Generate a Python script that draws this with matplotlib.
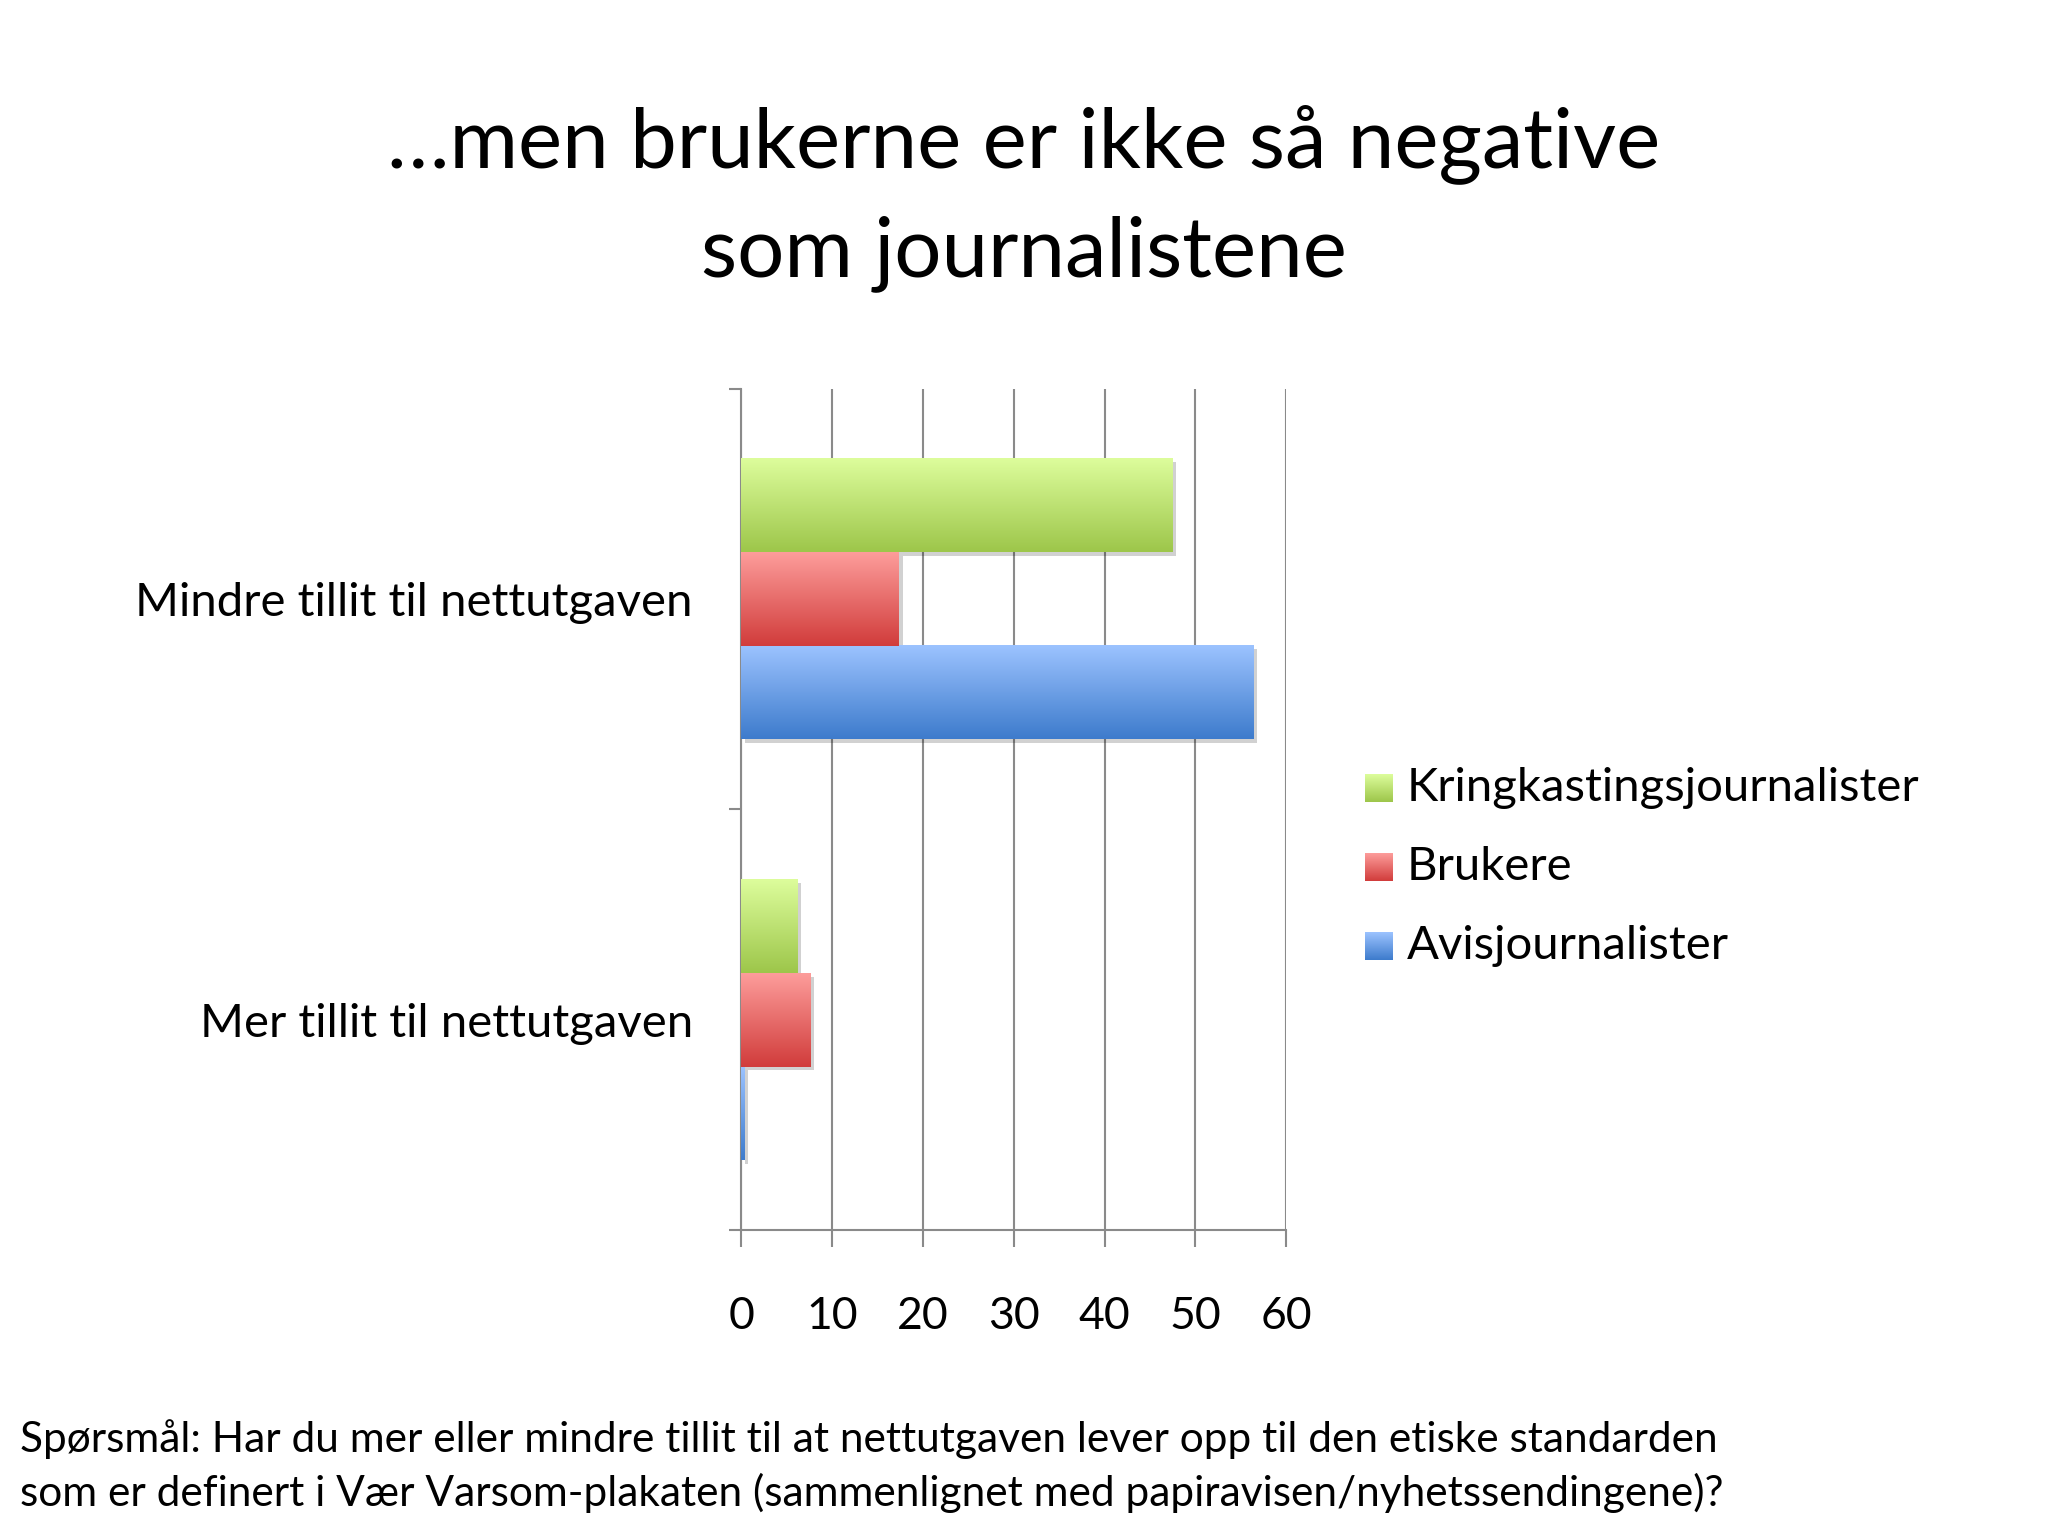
import numpy as np
import matplotlib
matplotlib.use("Agg")
import matplotlib.pyplot as plt
import matplotlib.colors as mcolors
import matplotlib.patheffects as pe

plt.rcParams["font.family"] = ["Lato", "DejaVu Sans"]

categories = ["Mer tillit til nettutgaven", "Mindre tillit til nettutgaven"]
series = ["Avisjournalister", "Brukere", "Kringkastingsjournalister"]
avis = [0.4, 56.4]
brukere = [7.6, 17.4]
kringkasting = [6.2, 47.5]
values = [avis, brukere, kringkasting]
xticks = [0, 10, 20, 30, 40, 50, 60]

title_lines = ["\u2026men brukerne er ikke s\u00e5 negative", "som journalistene"]
note_lines = [
    "Sp\u00f8rsm\u00e5l: Har du mer eller mindre tillit til at nettutgaven lever opp til den etiske standarden",
    "som er definert i V\u00e6r Varsom-plakaten (sammenlignet med papiravisen/nyhetssendingene)?",
]

# (light top, dark bottom) for the gradient fill
gradients = {
    "Avisjournalister": ("#9cc3ff", "#3d7bcc"),
    "Brukere": ("#fd9d9b", "#d13c3b"),
    "Kringkastingsjournalister": ("#ddfd9c", "#9dc64a"),
}
GRID = "#8a8a8a"

fig = plt.figure(figsize=(20.48, 15.36), dpi=100, facecolor="white")
ax = fig.add_axes([0.362, 0.199, 0.266, 0.548])

bar_h = 2 / 9  # three bars fill 2/3 of each category slot
y = np.arange(len(categories))
grad = np.linspace(1, 0, 256).reshape(-1, 1)
cmaps = {}
for i, (name, vals) in enumerate(zip(series, values)):
    light, dark = gradients[name]
    cmap = mcolors.LinearSegmentedColormap.from_list(name, [dark, light])
    cmaps[name] = cmap
    bars = ax.barh(y + (i - 1) * bar_h, vals, height=bar_h, color=dark, linewidth=0, zorder=3,
                   path_effects=[pe.SimplePatchShadow(offset=(2.5, -2.5), shadow_rgbFace="black", alpha=0.18),
                                 pe.Normal()])
    for b in bars:
        x0, y0, w, h = b.get_x(), b.get_y(), b.get_width(), b.get_height()
        ax.imshow(grad, extent=[x0, x0 + w, y0, y0 + h], origin="upper",
                  cmap=cmap, vmin=0, vmax=1, aspect="auto", zorder=4, interpolation="bilinear")

ax.set_xlim(0, 60)
ax.set_ylim(-0.5, len(categories) - 0.5)
ax.set_xticks(xticks)
ax.set_xticklabels([str(t) for t in xticks], fontsize=32)
ax.xaxis.grid(True, color=GRID, lw=1.5, zorder=1)
ax.set_axisbelow(True)
ax.tick_params(axis="x", length=12, width=1.5, color=GRID, pad=35)

ax.set_yticks(np.arange(-0.5, len(categories), 1.0))
ax.set_yticklabels([])
ax.set_yticks(y, minor=True)
ax.set_yticklabels(categories, minor=True, fontsize=34)
ax.tick_params(axis="y", which="major", length=9, width=1.5, color=GRID)
ax.tick_params(axis="y", which="minor", length=0, pad=35)

for s in ("top", "right"):
    ax.spines[s].set_visible(False)
for s in ("left", "bottom"):
    ax.spines[s].set_color(GRID)
    ax.spines[s].set_linewidth(1.5)

# legend drawn by hand so the keys keep the gradient
lax = fig.add_axes([0, 0, 1, 1], facecolor="none")
lax.set_xlim(0, 2048)
lax.set_ylim(0, 1536)
lax.axis("off")
for k, name in enumerate(reversed(series)):
    cy = 1536 - (788 + k * 79)
    lax.imshow(grad, extent=[1365, 1393, cy - 14, cy + 14], origin="upper",
               cmap=cmaps[name], vmin=0, vmax=1, aspect="auto")
    lax.text(1407, cy, name, fontsize=34, va="center", ha="left")

fig.text(0.5, 0.891, title_lines[0], fontsize=60, ha="center", va="baseline")
fig.text(0.5, 0.820, title_lines[1], fontsize=60, ha="center", va="baseline")
fig.text(20 / 2048, 0.0547, note_lines[0], fontsize=30.5, ha="left", va="baseline")
fig.text(20 / 2048, 0.0195, note_lines[1], fontsize=30.5, ha="left", va="baseline")

fig.savefig("out.png", dpi=100, facecolor="white")
